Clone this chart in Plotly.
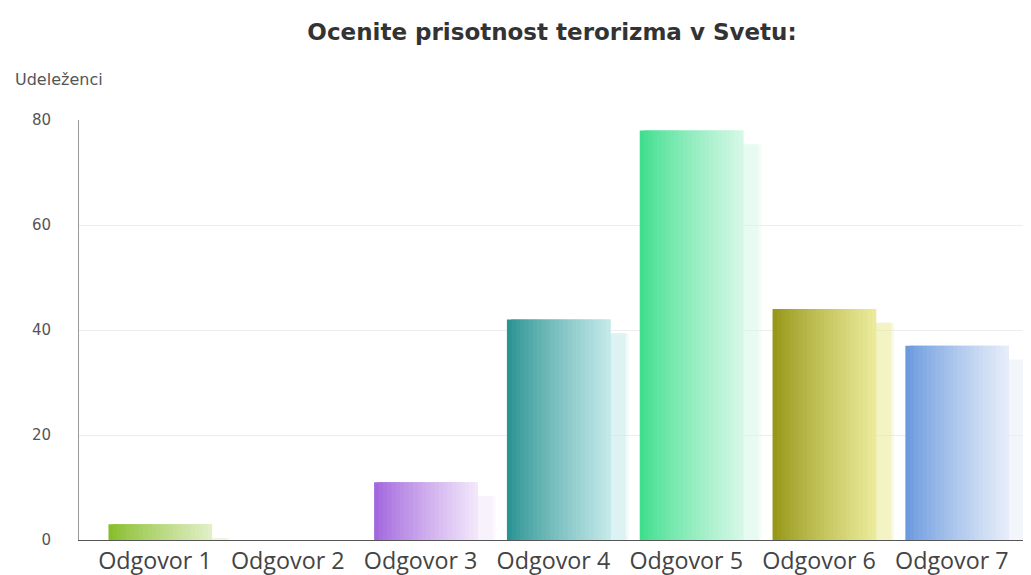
import plotly.graph_objects as go

categories = ["Odgovor 1", "Odgovor 2", "Odgovor 3", "Odgovor 4", "Odgovor 5", "Odgovor 6", "Odgovor 7"]
values = [3, 0, 11, 42, 78, 44, 37]
dark_colors = ["#84bb26", "#8aa0d8", "#9f62dc", "#25908f", "#3ade8a", "#949414", "#6797de"]
light_colors = ["#e2f0c8", "#eef2fa", "#f3e8fb", "#c6eaea", "#d8f8e8", "#ecec9c", "#e8eff9"]
y_ticks = [0, 20, 40, 60, 80]
title_text = "Ocenite prisotnost terorizma v Svetu:"
y_title = "Udeleženci"


def hex_rgb(h):
    h = h.lstrip("#")
    return tuple(int(h[i:i + 2], 16) for i in (0, 2, 4))


def mix(c1, c2, t):
    a, b = hex_rgb(c1), hex_rgb(c2)
    return "rgb(%d,%d,%d)" % tuple(round(a[i] + (b[i] - a[i]) * t) for i in range(3))


W, H = 1023, 567
L, R, T, B = 71, 0, 112, 35
PW, PH = W - L - R, H - T - B

fig = go.Figure()

bar_w = 0.78
shift = 0.04
n_slices = 24

# soft shadows to the right
shadow_vals = [max(v - 2.6, 0) if v > 0 else 0 for v in values]
for k, (dx, a) in enumerate([(0.135, 0.25), (0.115, 0.45)]):
    shadow_cols = ["rgba(%d,%d,%d,%.2f)" % (hex_rgb(c) + (a,)) for c in light_colors]
    fig.add_trace(go.Bar(
        x=categories, y=shadow_vals, width=bar_w, offset=-bar_w / 2 + shift + dx,
        marker=dict(color=shadow_cols, line=dict(width=0)), hoverinfo="skip", showlegend=False,
    ))

sw = bar_w / n_slices
for i in range(n_slices):
    t = (i + 0.5) / n_slices
    cols = [mix(d, l, t ** 0.85) for d, l in zip(dark_colors, light_colors)]
    w = sw * 2 if i < n_slices - 1 else sw
    fig.add_trace(go.Bar(
        x=categories, y=values, width=w, offset=-bar_w / 2 + shift + i * sw,
        marker=dict(color=cols, line=dict(width=0)), hoverinfo="skip", showlegend=False,
    ))

fig.update_layout(
    width=W, height=H,
    margin=dict(l=L, r=R, t=T, b=B),
    paper_bgcolor="white", plot_bgcolor="white",
    barmode="overlay",
    title=dict(text=title_text, x=544 / W, xanchor="center", y=1 - 24 / H, yanchor="middle",
               font=dict(family="DejaVu Sans", size=23, color="#333333", weight="bold")),
    xaxis=dict(range=[-0.572, 6.596], showgrid=False, showline=True, linecolor="#555555", linewidth=1,
               ticks="", tickfont=dict(family="Open Sans", size=23.3, color="#444444"), fixedrange=True),
    yaxis=dict(range=[0, 80], tickvals=y_ticks, showgrid=True, gridcolor="#ededed", gridwidth=1,
               showline=True, linecolor="#999999", linewidth=1, zeroline=False, ticks="",
               ticklabelstandoff=24,
               tickfont=dict(family="DejaVu Sans", size=15, color="#555555")),
    annotations=[dict(text=y_title, xref="paper", yref="paper", x=(5 - L) / PW, y=(PH + T - 72) / PH,
                      xanchor="left", yanchor="middle", showarrow=False,
                      font=dict(family="DejaVu Sans", size=16, color="#555555"))],
)

fig.write_html("out.html")
